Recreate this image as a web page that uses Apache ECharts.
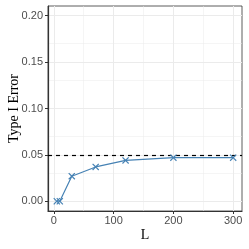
<!DOCTYPE html>
<html><head><meta charset="utf-8">
<script src="https://cdn.jsdelivr.net/npm/echarts@6/dist/echarts.min.js"></script>
<style>html,body{margin:0;padding:0;background:#fff}#c{width:249px;height:249px}</style>
</head><body><div id="c"></div>
<script>
const L = [5, 10, 30, 70, 120, 200, 300];
const typeIError = [0.0, 0.0, 0.027, 0.037, 0.044, 0.047, 0.047];
const xTicks = [0, 100, 200, 300];
const xMinor = [50, 150, 250];
const yTicks = [0.00, 0.05, 0.10, 0.15, 0.20];
const yMinor = [0.025, 0.075, 0.125, 0.175];
const refLevel = 0.05;

const chart = echarts.init(document.getElementById('c'), null, {renderer: 'canvas'});
const X = 'path://M0,1.2L1.2,0L5,3.8L8.8,0L10,1.2L6.2,5L10,8.8L8.8,10L5,6.2L1.2,10L0,8.8L3.8,5Z';
const gridData = xMinor.map(v => ({xAxis: v, lineStyle: {width: 0.5}}))
  .concat(yMinor.map(v => ({yAxis: v, lineStyle: {width: 0.5}})));
chart.setOption({
  animation: false,
  grid: {left: 48, right: 7, top: 6, bottom: 38, show: true, borderColor: '#333', borderWidth: 0.8, containLabel: false, outerBoundsMode: 'none'},
  xAxis: {
    type: 'value', min: -9.75, max: 314.75,
    name: 'L', nameLocation: 'middle', nameGap: 17, nameMoveOverlap: false,
    nameTextStyle: {fontFamily: 'Liberation Serif', fontSize: 14, color: '#000'},
    axisLine: {show: true, onZero: false, lineStyle: {color: '#333', width: 1.2}},
    axisTick: {show: true, length: 3, customValues: xTicks, lineStyle: {color: '#333'}},
    axisLabel: {customValues: xTicks, fontFamily: 'Liberation Sans', fontSize: 11, color: '#4d4d4d', margin: 4},
    splitLine: {show: true, lineStyle: {color: '#ebebeb', width: 1}}
  },
  yAxis: {
    type: 'value', min: -0.0105, max: 0.2105,
    name: 'Type I Error', nameLocation: 'middle', nameGap: 27, nameRotate: 90, nameMoveOverlap: false,
    nameTextStyle: {fontFamily: 'Liberation Serif', fontSize: 14, color: '#000'},
    axisLine: {show: true, onZero: false, lineStyle: {color: '#333', width: 1.2}},
    axisTick: {show: true, length: 3, customValues: yTicks, lineStyle: {color: '#333'}},
    axisLabel: {customValues: yTicks, formatter: v => v.toFixed(2), fontFamily: 'Liberation Sans', fontSize: 11, color: '#4d4d4d', margin: 5},
    splitLine: {show: true, lineStyle: {color: '#ebebeb', width: 1}}
  },
  series: [
    {
      type: 'line', data: [], silent: true,
      markLine: {silent: true, symbol: 'none', label: {show: false}, lineStyle: {color: '#ebebeb', type: 'solid'}, data: gridData, z: 0}
    },
    {
      type: 'line', data: [], silent: true,
      markLine: {silent: true, symbol: 'none', label: {show: false}, lineStyle: {color: '#000', type: [4, 4], width: 1.2}, data: [{yAxis: refLevel}]}
    },
    {
      type: 'line', data: L.map((x, i) => [x, typeIError[i]]),
      lineStyle: {color: '#4682b4', width: 1.2},
      itemStyle: {color: '#4682b4'},
      symbol: X, symbolSize: 7, showAllSymbol: true, z: 5
    }
  ]
});
</script></body></html>
